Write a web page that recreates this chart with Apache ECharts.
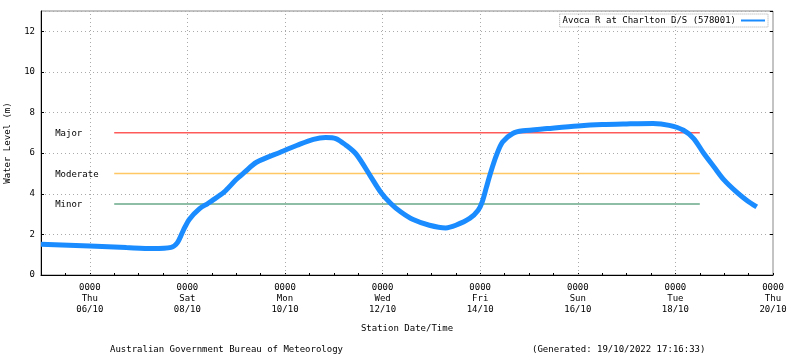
<!DOCTYPE html>
<html><head><meta charset="utf-8">
<script src="https://cdn.jsdelivr.net/npm/echarts@6/dist/echarts.min.js"></script>
<style>html,body{margin:0;padding:0;background:#fff}#c{width:800px;height:358px}</style>
</head><body><div id="c"></div>
<script>
const times = ['2022-10-05 00:00','2022-10-06 00:00','2022-10-06 18:00','2022-10-07 07:00','2022-10-07 16:00','2022-10-07 19:00','2022-10-07 22:00','2022-10-08 01:00','2022-10-08 06:00','2022-10-08 10:00','2022-10-08 12:00','2022-10-08 18:00','2022-10-09 00:00','2022-10-09 04:00','2022-10-09 10:00','2022-10-09 22:00','2022-10-10 06:00','2022-10-10 14:00','2022-10-10 20:00','2022-10-11 01:00','2022-10-11 06:00','2022-10-11 11:00','2022-10-11 18:00','2022-10-11 23:00','2022-10-12 04:00','2022-10-12 09:00','2022-10-12 15:00','2022-10-12 23:00','2022-10-13 07:00','2022-10-13 12:00','2022-10-13 19:00','2022-10-13 23:00','2022-10-14 01:00','2022-10-14 03:00','2022-10-14 05:00','2022-10-14 08:00','2022-10-14 11:00','2022-10-14 16:00','2022-10-14 21:00','2022-10-15 09:00','2022-10-16 00:00','2022-10-16 12:00','2022-10-17 00:00','2022-10-17 13:00','2022-10-17 21:00','2022-10-18 04:00','2022-10-18 09:00','2022-10-18 14:00','2022-10-18 19:00','2022-10-19 00:00','2022-10-19 06:00','2022-10-19 11:00','2022-10-19 16:00'];
const levels = [1.51,1.43,1.35,1.30,1.36,1.58,2.2,2.75,3.27,3.52,3.65,4.08,4.7,5.05,5.55,6.06,6.39,6.68,6.77,6.72,6.39,5.95,4.87,4.09,3.52,3.1,2.73,2.45,2.32,2.45,2.8,3.19,3.6,4.3,5.0,5.9,6.55,6.97,7.1,7.21,7.34,7.41,7.44,7.46,7.37,7.13,6.72,5.98,5.32,4.67,4.09,3.68,3.35];
const thresholdNames = ['Major','Moderate','Minor'];
const thresholdValues = [7, 5, 3.5];
const thresholdColors = ['#ff5a5a','#ffc864','#6aa88a'];
const thresholdStart = '2022-10-06 12:00';
const thresholdEnd = '2022-10-18 12:00';
const xMin = '2022-10-05 00:00', xMax = '2022-10-20 00:00';
const labelDates = ['2022-10-06 00:00','2022-10-08 00:00','2022-10-10 00:00','2022-10-12 00:00','2022-10-14 00:00','2022-10-16 00:00','2022-10-18 00:00','2022-10-20 00:00'];
const seriesName = 'Avoca R at Charlton D/S (578001)';
const footerLeft = 'Australian Government Bureau of Meteorology';
const footerRight = '(Generated: 19/10/2022 17:16:33)';
const dayNames = ['Sun','Mon','Tue','Wed','Thu','Fri','Sat'];
const FONT = 'DejaVu Sans Mono';

function utc(s){ const m = s.match(/(\d+)-(\d+)-(\d+) (\d+):(\d+)/); return Date.UTC(+m[1], +m[2]-1, +m[3], +m[4], +m[5]); }
const base = utc(xMin);
function dx(s){ return (utc(s) - base) / 86400000; }
const labelDays = labelDates.map(dx);

const chart = echarts.init(document.getElementById('c'));
const series = [{
  name: seriesName, type: 'line', data: times.map((t,i)=>[dx(t), levels[i]]),
  smooth: 0.3, showSymbol: false, symbol: 'circle', symbolSize: 4,
  lineStyle: {width: 5, color: '#1a8cff'}, itemStyle: {color: '#1a8cff'}, z: 5,
  markLine: {silent: true, symbol: 'none', label: {show: false}, animation: false,
    lineStyle: {color: '#aaa', type: [1,3], width: 1},
    data: labelDays.filter(d => d < dx(xMax)).map(d => ({xAxis: d}))}
}];
thresholdNames.forEach((n,i)=>{
  series.push({name: n, type: 'line', data: [[dx(thresholdStart), thresholdValues[i]],[dx(thresholdEnd), thresholdValues[i]]],
    showSymbol: false, symbol: 'none', lineStyle: {width: 1.5, color: thresholdColors[i]}, z: 3, silent: true});
});

chart.setOption({
  animation: false,
  backgroundColor: '#fff',
  textStyle: {fontFamily: FONT},
  grid: {left: 41, right: 27, top: 11, bottom: 83, outerBoundsMode: 'none', containLabel: false, show: true, borderColor: '#888', borderWidth: 1},
  legend: {data: [{name: seriesName, icon: 'path://M0,4 L24,4 L24,6 L0,6 Z'}], right: 32, top: 14, align: 'right',
    itemWidth: 24, itemHeight: 3, padding: [2,3], borderColor: '#aaa', borderWidth: 1, borderType: 'dotted',
    textStyle: {fontFamily: FONT, fontSize: 9, color: '#000'}, itemGap: 0},
  xAxis: {type: 'value', min: 0, max: dx(xMax), interval: 1,
    name: 'Station Date/Time', nameLocation: 'middle', nameGap: 49,
    nameTextStyle: {fontFamily: FONT, fontSize: 9, color: '#000'},
    axisLine: {onZero: false, lineStyle: {color: '#000', width: 1}},
    axisTick: {show: true, inside: true, length: 2, lineStyle: {color: '#000'}},
    minorTick: {show: true, splitNumber: 2, length: 2, lineStyle: {color: '#000'}},
    splitLine: {show: false},
    axisLabel: {fontFamily: FONT, fontSize: 9, color: '#000', lineHeight: 11, margin: 7, showMinLabel: true, showMaxLabel: true, hideOverlap: false,
      formatter: function(v){
        if (labelDays.indexOf(Math.round(v*1000)/1000) < 0) return '';
        const d = new Date(base + v*86400000);
        const dd = String(d.getUTCDate()).padStart(2,'0'); const mm = String(d.getUTCMonth()+1).padStart(2,'0');
        return '0000\n'+dayNames[d.getUTCDay()]+'\n'+dd+'/'+mm; }}
  },
  yAxis: [{type: 'value', min: 0, max: 13, interval: 2,
    name: 'Water Level (m)', nameLocation: 'middle', nameGap: 29, nameRotate: 90,
    nameTextStyle: {fontFamily: FONT, fontSize: 9, color: '#000'},
    axisLine: {show: true, lineStyle: {color: '#000'}},
    axisTick: {show: true, inside: true, length: 3, lineStyle: {color: '#000'}},
    splitLine: {show: true, lineStyle: {color: '#aaa', type: [1,3]}},
    axisLabel: {fontFamily: FONT, fontSize: 9, color: '#000', margin: 6, showMaxLabel: false,
      formatter: function(v){ return v > 12 ? '' : String(v); }}
  },{type: 'value', min: 0, max: 13, interval: 2, position: 'right',
    axisLine: {show: false}, axisTick: {show: true, inside: true, length: 3, lineStyle: {color: '#000'}},
    splitLine: {show: false}, axisLabel: {show: false}}],
  series: series
});

const graphics = thresholdNames.map((n,i)=>{
  const p = chart.convertToPixel({xAxisIndex:0, yAxisIndex:0}, [dx(thresholdStart), thresholdValues[i]]);
  return {type:'text', x: p[0]-59, y: p[1]+1, style:{text:n, font:'9px '+FONT, fill:'#000', verticalAlign:'middle'}};
});
graphics.push({type:'text', left: 110, top: 345, style:{text: footerLeft, font:'9px '+FONT, fill:'#000'}});
graphics.push({type:'text', left: 532, top: 345, style:{text: footerRight, font:'9px '+FONT, fill:'#000'}});
chart.setOption({graphic: graphics});
</script></body></html>
